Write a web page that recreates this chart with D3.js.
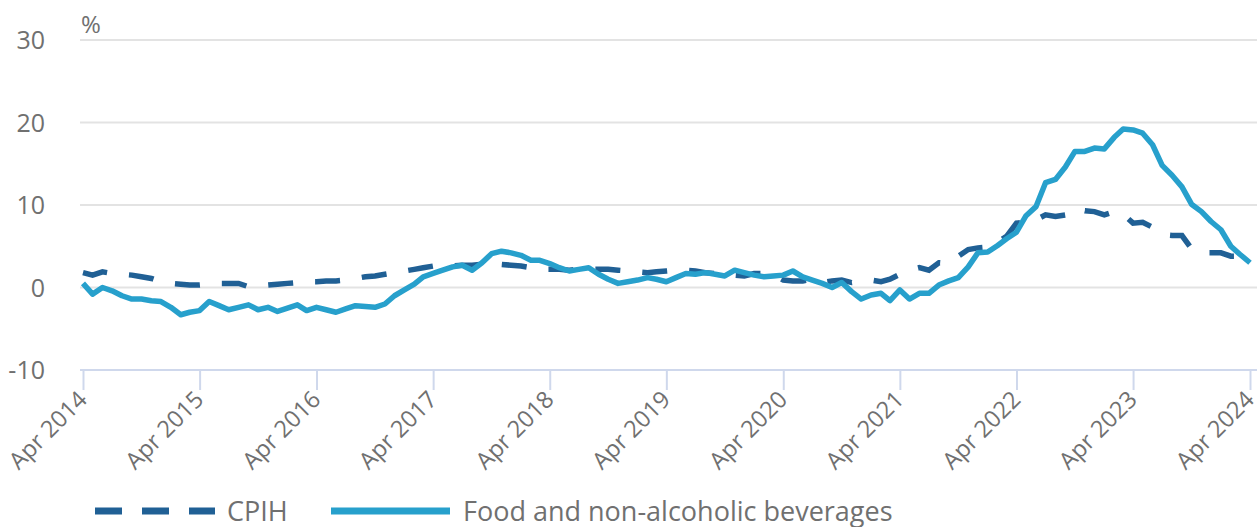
<!DOCTYPE html>
<html>
<head>
<meta charset="utf-8">
<script src="https://cdn.jsdelivr.net/npm/d3@7"></script>
<style>
  body { margin: 0; background: #fff; }
  text { font-family: "Open Sans", sans-serif; fill: #707070; }
</style>
</head>
<body>
<div id="chart"></div>
<script>
// monthly 12-month rates (%), Apr 2014 to Apr 2024
var firstMonth = new Date(2014, 3, 1);

var cpih = [
  1.8, 1.5, 1.9, 1.7, 1.6, 1.5, 1.3, 1.1, 0.7,
  0.5, 0.4, 0.3, 0.3, 0.4, 0.5, 0.5, 0.5, 0.1, 0.2, 0.3, 0.4,
  0.5, 0.6, 0.7, 0.7, 0.8, 0.8, 0.9, 1.1, 1.3, 1.4, 1.6, 1.8,
  2.0, 2.2, 2.4, 2.6, 2.6, 2.6, 2.7, 2.7, 2.8, 2.8, 2.8, 2.7,
  2.6, 2.4, 2.2, 2.2, 2.2, 2.1, 2.2, 2.2, 2.2, 2.2, 2.1, 2.0,
  1.9, 1.8, 1.9, 2.0, 2.1, 2.1, 2.0, 1.8, 1.7, 1.5, 1.5, 1.4,
  1.7, 1.7, 1.5, 0.9, 0.8, 0.8, 1.0, 0.6, 0.8, 0.9, 0.6, 0.8,
  0.9, 0.7, 1.0, 1.6, 2.1, 2.4, 2.1, 3.0, 2.9, 3.8, 4.6, 4.8,
  4.9, 5.5, 6.2, 7.8, 7.9, 8.2, 8.8, 8.6, 8.8, 9.6, 9.3, 9.2,
  8.8, 9.2, 8.9, 7.8, 7.9, 7.3, 6.4, 6.3, 6.3, 4.7, 4.2, 4.2,
  4.2, 3.8, 3.8, 3.0
];

var food = [
  0.5, -0.8, 0.0, -0.4, -1.0, -1.4, -1.4, -1.6, -1.7,
  -2.4, -3.3, -3.0, -2.8, -1.7, -2.2, -2.7, -2.4, -2.1, -2.7, -2.4, -2.9,
  -2.5, -2.1, -2.8, -2.4, -2.7, -3.0, -2.6, -2.2, -2.3, -2.4, -2.0, -1.0,
  -0.3, 0.4, 1.3, 1.7, 2.1, 2.5, 2.7, 2.1, 3.0, 4.1, 4.4, 4.2,
  3.9, 3.3, 3.3, 2.9, 2.4, 2.0, 2.2, 2.4, 1.6, 1.0, 0.5, 0.7,
  0.9, 1.2, 1.0, 0.7, 1.2, 1.7, 1.6, 1.8, 1.6, 1.4, 2.1, 1.8,
  1.5, 1.3, 1.4, 1.5, 2.0, 1.3, 0.9, 0.5, 0.0, 0.6, -0.5, -1.4,
  -0.9, -0.7, -1.6, -0.3, -1.4, -0.7, -0.7, 0.3, 0.8, 1.2, 2.5, 4.2,
  4.3, 5.1, 5.9, 6.7, 8.7, 9.8, 12.7, 13.1, 14.6, 16.5, 16.5, 16.9,
  16.8, 18.2, 19.2, 19.1, 18.7, 17.3, 14.8, 13.6, 12.2, 10.1, 9.2, 8.0,
  7.0, 5.0, 4.0, 3.0
];

var seriesNames = ['CPIH', 'Food and non-alcoholic beverages'];
var yTicks = [-10, 0, 10, 20, 30];
var tickYears = [2014, 2015, 2016, 2017, 2018, 2019, 2020, 2021, 2022, 2023, 2024];

var svgWidth = 1257;
var svgHeight = 527;
var margin = { top: 40, right: 7, bottom: 157, left: 83 };
var width = svgWidth - margin.left - margin.right;
var height = svgHeight - margin.top - margin.bottom;

var darkBlue = '#206095';
var lightBlue = '#27a0cc';

var svg = d3.select('#chart')
  .append('svg')
  .attr('width', svgWidth)
  .attr('height', svgHeight);

var g = svg.append('g')
  .attr('transform', `translate(${margin.left}, ${margin.top})`);

var months = cpih.map((d, i) => d3.timeMonth.offset(firstMonth, i));

var x = d3.scaleTime()
  .domain([months[0], months[months.length - 1]])
  .range([0, width]);

var y = d3.scaleLinear()
  .domain([-10, 30])
  .range([height, 0]);

// gridlines
g.append('g')
  .selectAll('line')
  .data(yTicks.filter(d => d > -10))
  .enter()
  .append('line')
  .attr('x1', -3)
  .attr('x2', svgWidth - margin.left)
  .attr('y1', d => y(d))
  .attr('y2', d => y(d))
  .attr('stroke', '#e3e3e3')
  .attr('stroke-width', 2);

// y labels
g.append('g')
  .selectAll('text')
  .data(yTicks)
  .enter()
  .append('text')
  .attr('x', -38)
  .attr('y', d => y(d))
  .attr('dy', '0.36em')
  .attr('text-anchor', 'end')
  .style('font-size', '25px')
  .text(d => d);

g.append('text')
  .attr('x', -2)
  .attr('y', -7)
  .style('font-size', '24px')
  .text('%');

// x axis
var xAxis = d3.axisBottom(x)
  .tickValues(tickYears.map(yr => new Date(yr, 3, 1)))
  .tickFormat(d3.timeFormat('%b %Y'))
  .tickSize(20)
  .tickSizeOuter(0);

var xg = g.append('g')
  .attr('transform', `translate(0, ${height})`)
  .call(xAxis);

xg.select('.domain')
  .attr('d', `M-3,0H${svgWidth - margin.left}`)
  .attr('stroke', '#cfd8ec')
  .attr('stroke-width', 2);
xg.selectAll('.tick line')
  .attr('stroke', '#cfd8ec')
  .attr('stroke-width', 2);
xg.selectAll('.tick text')
  .attr('y', 0)
  .attr('dy', 0)
  .attr('text-anchor', 'end')
  .attr('transform', 'translate(5, 31) rotate(-45)')
  .style('font-size', '23.5px')
  .style('font-family', '"Open Sans", sans-serif')
  .attr('fill', '#707070');

// lines
var line = d3.line()
  .x((d, i) => x(months[i]))
  .y(d => y(d));

g.append('path')
  .datum(cpih)
  .attr('fill', 'none')
  .attr('stroke', darkBlue)
  .attr('stroke-width', 5.5)
  .attr('stroke-dasharray', '25,22')
  .attr('d', line);

g.append('path')
  .datum(food)
  .attr('fill', 'none')
  .attr('stroke', lightBlue)
  .attr('stroke-width', 5.5)
  .attr('stroke-linejoin', 'round')
  .attr('d', line);

// legend
var legend = svg.append('g')
  .attr('transform', 'translate(0, 511)');

legend.append('line')
  .attr('x1', 95).attr('x2', 215)
  .attr('stroke', darkBlue)
  .attr('stroke-width', 7)
  .attr('stroke-dasharray', '27,20');
legend.append('text')
  .attr('x', 227)
  .attr('dy', '0.36em')
  .style('font-size', '27px')
  .text(seriesNames[0]);

legend.append('line')
  .attr('x1', 331).attr('x2', 450)
  .attr('stroke', lightBlue)
  .attr('stroke-width', 7);
legend.append('text')
  .attr('x', 463)
  .attr('dy', '0.36em')
  .style('font-size', '27px')
  .text(seriesNames[1]);
</script>
</body>
</html>
